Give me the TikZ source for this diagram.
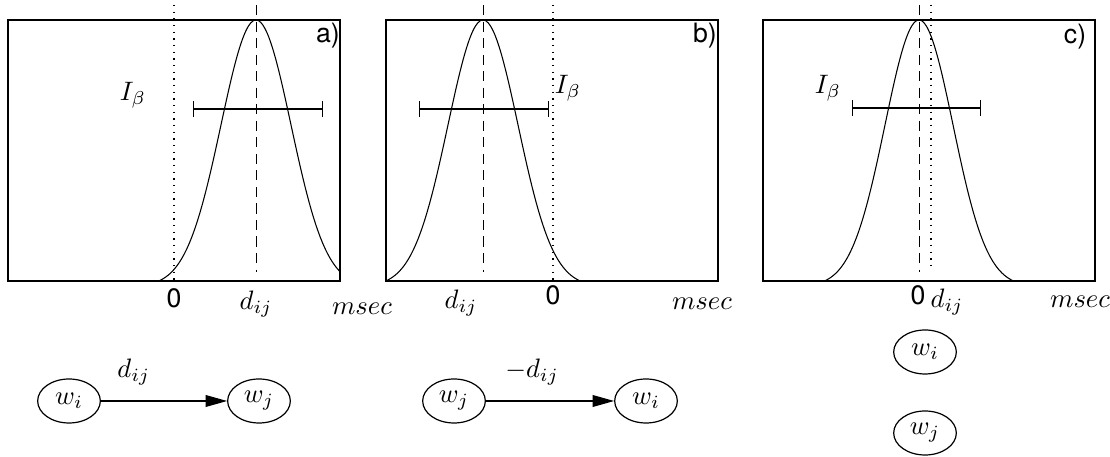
\documentclass[tikz,border=0pt]{standalone}
\usepackage{fontspec}
\setsansfont{TeX Gyre Heros}
\usepackage{amsmath}
\usetikzlibrary{arrows.meta, positioning, shapes.geometric}

\begin{document}
\begin{tikzpicture}[x=0.375pt, y=-0.375pt,
      frame/.style={draw, line width=0.45pt},
      bell/.style={line width=0.4pt},
      peak/.style={dash pattern=on 3.8pt off 2.4pt, line width=0.35pt},
      zero/.style={dotted, line width=0.5pt},
      errbar/.style={{Bar[width=6pt]}-{Bar[width=6pt]}, line width=0.5pt},
      word/.style={ellipse, draw, line width=0.45pt, minimum width=23.5pt,
                   minimum height=16.5pt, inner sep=0pt},
      arr/.style={-{Triangle[length=8pt, width=4.4pt]}, line width=0.4pt},
      tag/.style={font=\sffamily},
      ]
    \useasboundingbox (0,0) rectangle (1110,457);

    % a) delay d_ij > 0
    \draw[frame] (8,20) rectangle (340,281);
    \draw[bell] plot[domain=159:340, samples=90, smooth]
      (\x, {281-261*(exp(-((\x-256)/35)^2/2)-0.021)/0.979});
    \draw[zero] (174,5) -- (174,281);
    \draw[peak] (256.5,5) -- (256.5,272);
    \draw[errbar] (193,109) -- (323,109);
    \node (ia) at (133,95) {$I_\beta$};
    \node[tag] (ta) at (328,36) {a)};
    \node[tag, anchor=base] (za) at (174,308) {0};
    \node[anchor=base] (da) at (256,310) {$d_{ij}$};
    \node[anchor=base] (ma) at (362,315) {$msec$};

    % b) delay d_ij < 0
    \draw[frame] (386,20) rectangle (718,281);
    \draw[bell] plot[domain=386:580, samples=90, smooth]
      (\x, {281-261*(exp(-((\x-483)/35)^2/2)-0.021)/0.979});
    \draw[zero] (553,5) -- (553,281);
    \draw[peak] (483.5,5) -- (483.5,272);
    \draw[errbar] (419,109) -- (549,109);
    \node (ib) at (568,88) {$I_\beta$};
    \node[tag] (tb) at (705,36) {b)};
    \node[tag, anchor=base] (zb) at (553,305) {0};
    \node[anchor=base] (db) at (461,309) {$d_{ij}$};
    \node[anchor=base] (mb) at (702,310) {$msec$};

    % c) delay close to 0
    \draw[frame] (763,20) rectangle (1095,281);
    \draw[bell] plot[domain=825:1013, samples=90, smooth]
      (\x, {281-261*(exp(-((\x-919)/34)^2/2)-0.021)/0.979});
    \draw[zero] (931,5) -- (931,270);
    \draw[peak] (919.5,5) -- (919.5,272);
    \draw[errbar] (852,108) -- (981,108);
    \node (ic) at (828,88) {$I_\beta$};
    \node[tag] (tc) at (1075,37) {c)};
    \node[tag, anchor=base] (zc) at (918,305) {0};
    \node[anchor=base] (dc) at (947,308) {$d_{ij}$};
    \node[anchor=base] (mc) at (1080,308) {$msec$};

    % graphs below
    \node[word] (wia) at (69,401) {$w_i$};
    \node[word] (wja) at (259,401) {$w_j$};
    \draw[arr] (wia) -- node[pos=0.26, above=2.5pt] {$d_{ij}$} (wja);

    \node[word] (wjb) at (454,401) {$w_j$};
    \node[word] (wib) at (646,401) {$w_i$};
    \draw[arr] (wjb) -- node[pos=0.36, above=2.5pt] {$-d_{ij}$} (wib);

    \node[word] (wic) at (925,352) {$w_i$};
    \node[word] (wjc) at (925,433) {$w_j$};
\end{tikzpicture}
\end{document}
